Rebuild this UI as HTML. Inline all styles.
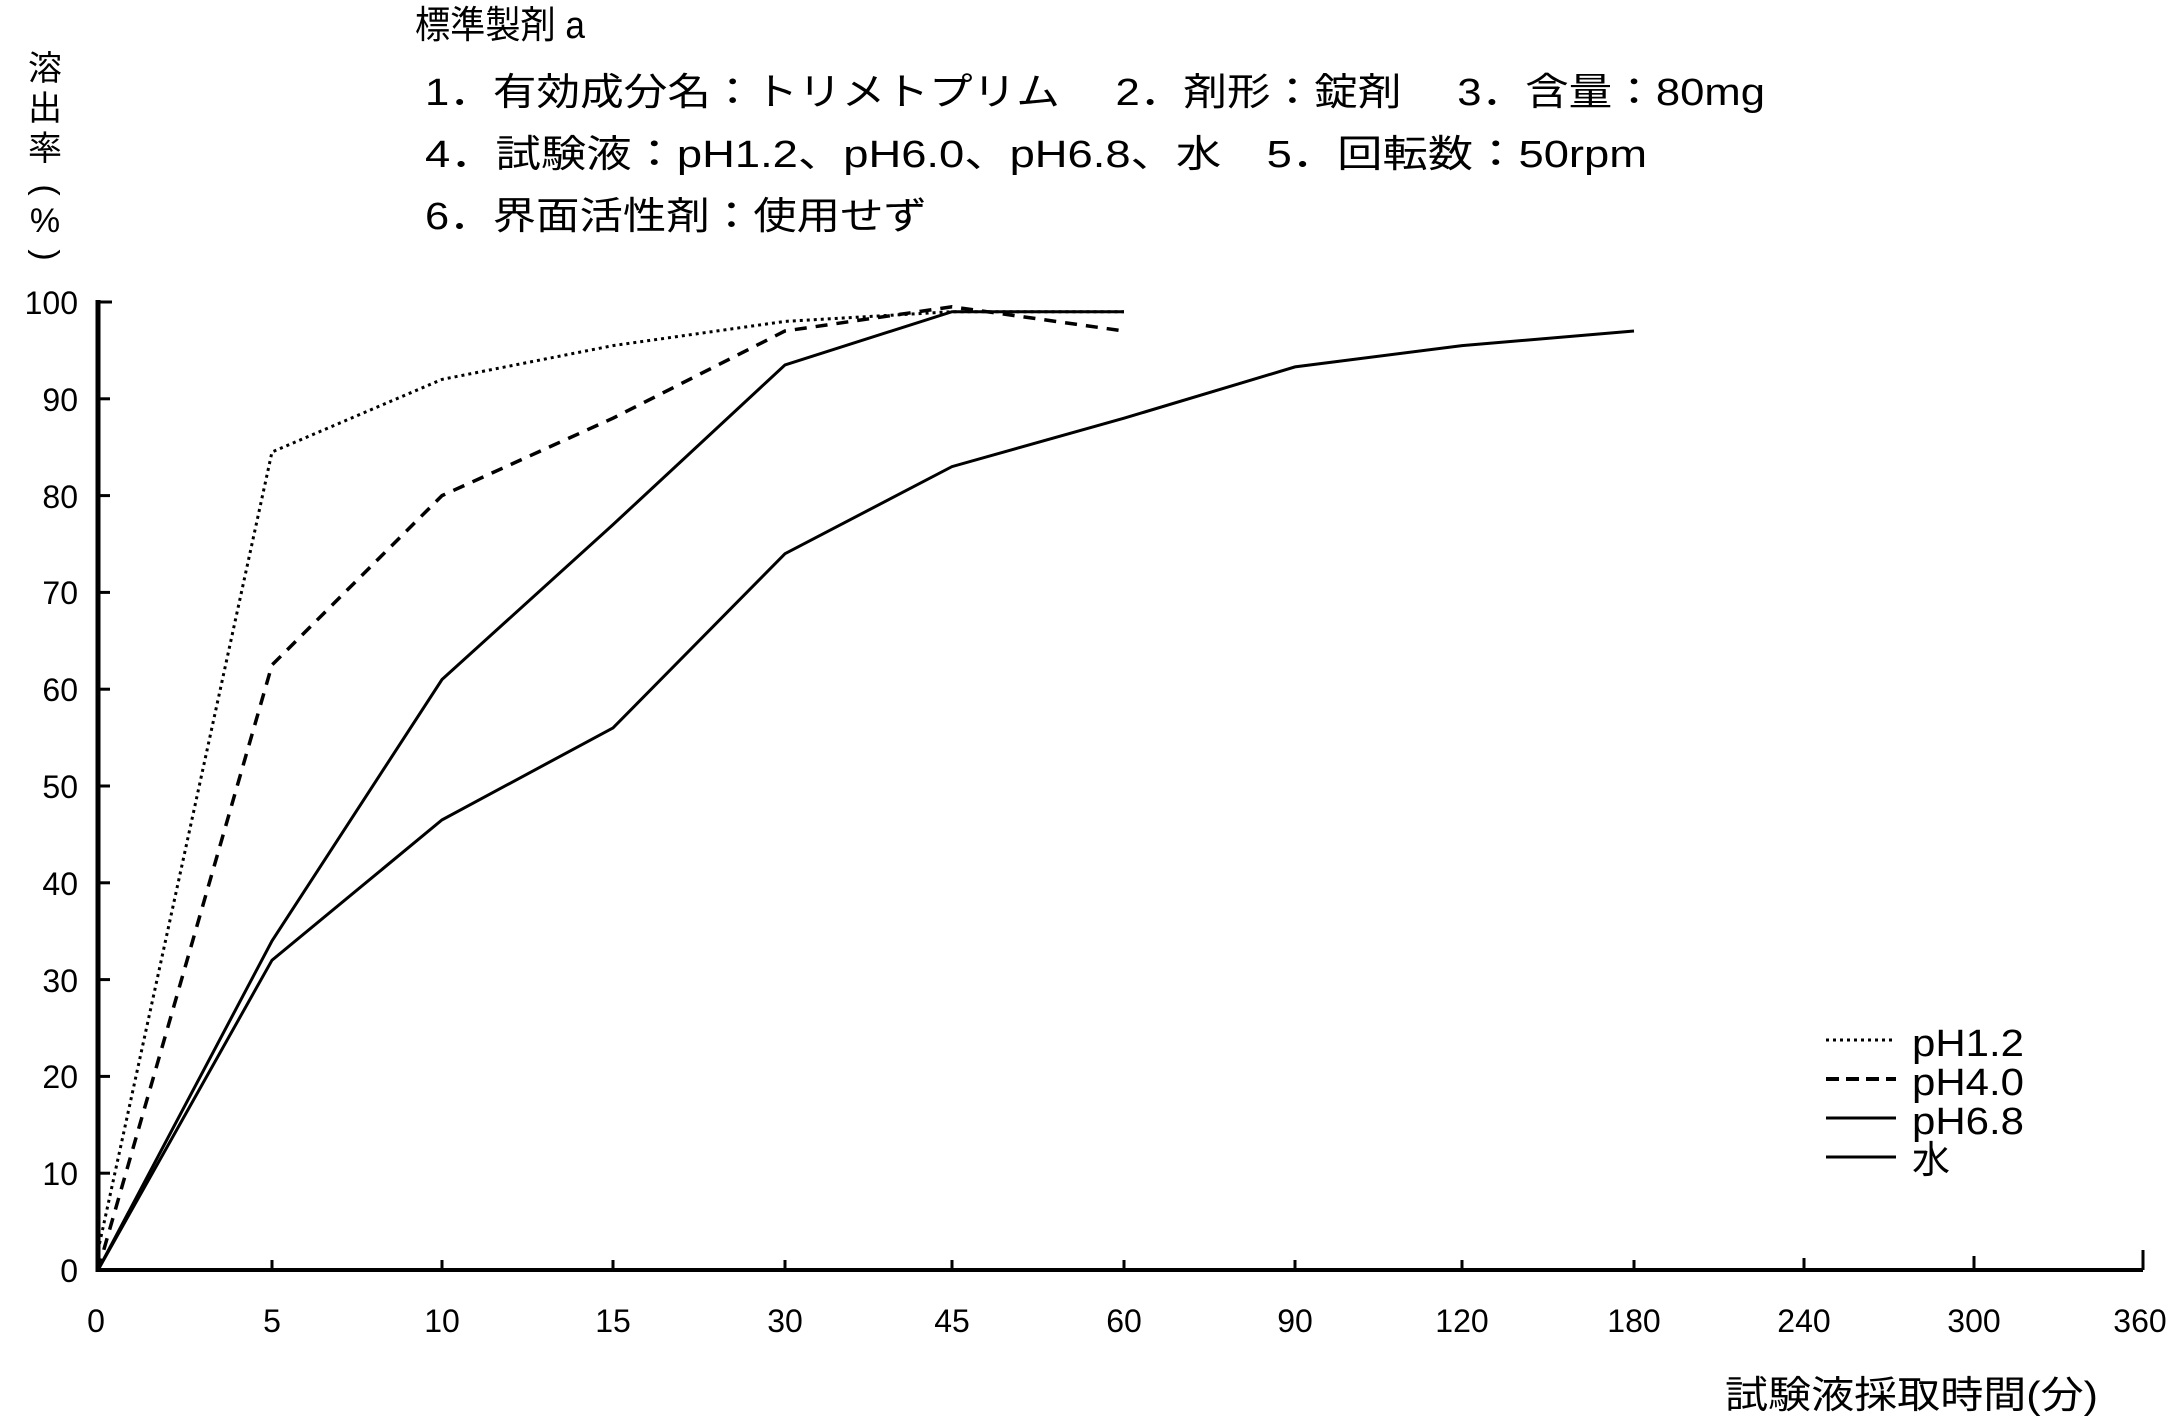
<!DOCTYPE html>
<html><head><meta charset="utf-8"><style>
html,body{margin:0;padding:0;background:#fff;}
svg{display:block;}
text{font-family:"Liberation Sans","Noto Sans CJK JP",sans-serif;fill:#000;}
</style></head><body>
<svg width="2175" height="1417" viewBox="0 0 2175 1417" xmlns="http://www.w3.org/2000/svg">
<!-- header -->
<g font-size="38">
<text x="415" y="38" textLength="170" lengthAdjust="spacingAndGlyphs">標準製剤 a</text>
<text x="425" y="105" textLength="1340" lengthAdjust="spacingAndGlyphs">1．有効成分名：トリメトプリム　 2．剤形：錠剤　 3．含量：80mg</text>
<text x="425" y="167" textLength="1222" lengthAdjust="spacingAndGlyphs">4．試験液：pH1.2、pH6.0、pH6.8、水　5．回転数：50rpm</text>
<text x="425" y="229" textLength="502" lengthAdjust="spacingAndGlyphs">6．界面活性剤：使用せず</text>
</g>
<!-- y label vertical -->
<g font-size="34" text-anchor="middle">
<text x="45" y="80">溶</text>
<text x="45" y="120">出</text>
<text x="45" y="160">率</text>
<text x="45" y="200" transform="rotate(90 45 190)">(</text>
<text x="45" y="232">%</text>
<text x="45" y="265" transform="rotate(90 45 255)">)</text>
</g>
<!-- axes -->
<g stroke="#000" fill="none">
<line x1="98" y1="300" x2="98" y2="1272" stroke-width="5"/>
<line x1="96" y1="1270" x2="2143" y2="1270" stroke-width="4"/>
<line x1="2143" y1="1270" x2="2143" y2="1250" stroke-width="3"/>
<g stroke-width="3">
<line x1="98" y1="302" x2="112" y2="302"/>
<line x1="98" y1="398.8" x2="110" y2="398.8"/>
<line x1="98" y1="495.6" x2="110" y2="495.6"/>
<line x1="98" y1="592.4" x2="110" y2="592.4"/>
<line x1="98" y1="689.2" x2="110" y2="689.2"/>
<line x1="98" y1="786" x2="110" y2="786"/>
<line x1="98" y1="882.8" x2="110" y2="882.8"/>
<line x1="98" y1="979.6" x2="110" y2="979.6"/>
<line x1="98" y1="1076.4" x2="110" y2="1076.4"/>
<line x1="98" y1="1173.2" x2="110" y2="1173.2"/>
<line x1="272" y1="1270" x2="272" y2="1260"/>
<line x1="442" y1="1270" x2="442" y2="1260"/>
<line x1="613" y1="1270" x2="613" y2="1260"/>
<line x1="785" y1="1270" x2="785" y2="1260"/>
<line x1="952" y1="1270" x2="952" y2="1260"/>
<line x1="1124" y1="1270" x2="1124" y2="1260"/>
<line x1="1295" y1="1270" x2="1295" y2="1260"/>
<line x1="1462" y1="1270" x2="1462" y2="1260"/>
<line x1="1634" y1="1270" x2="1634" y2="1260"/>
<line x1="1804" y1="1270" x2="1804" y2="1258"/>
<line x1="1974" y1="1270" x2="1974" y2="1256"/>
</g>
</g>
<!-- y tick labels -->
<g font-size="32" text-anchor="end">
<text x="78" y="314">100</text>
<text x="78" y="411">90</text>
<text x="78" y="508">80</text>
<text x="78" y="604">70</text>
<text x="78" y="701">60</text>
<text x="78" y="798">50</text>
<text x="78" y="895">40</text>
<text x="78" y="992">30</text>
<text x="78" y="1088">20</text>
<text x="78" y="1185">10</text>
<text x="78" y="1282">0</text>
</g>
<!-- x tick labels -->
<g font-size="32" text-anchor="middle">
<text x="96" y="1332">0</text>
<text x="272" y="1332">5</text>
<text x="442" y="1332">10</text>
<text x="613" y="1332">15</text>
<text x="785" y="1332">30</text>
<text x="952" y="1332">45</text>
<text x="1124" y="1332">60</text>
<text x="1295" y="1332">90</text>
<text x="1462" y="1332">120</text>
<text x="1634" y="1332">180</text>
<text x="1804" y="1332">240</text>
<text x="1974" y="1332">300</text>
<text x="2140" y="1332">360</text>
</g>
<text x="1725" y="1408" font-size="38" textLength="373" lengthAdjust="spacingAndGlyphs">試験液採取時間(分)</text>
<!-- series -->
<g fill="none" stroke="#000">
<polyline stroke-width="3" stroke-dasharray="3,4" points="98,1250.6 272,452 442,379.4 613,345.6 785,321.4 952,311.7 1124,311.7"/>
<polyline stroke-width="3.5" stroke-dasharray="12,9" points="98,1270 272,665 442,495.6 613,418.2 785,331 952,306.8 1124,331"/>
<polyline stroke-width="3" points="98,1270 272,940.9 442,679.5 613,524.6 785,364.9 952,311.7 1124,311.7"/>
<polyline stroke-width="3" points="98,1270 272,960.2 442,819.9 613,727.9 785,553.7 952,466.6 1124,418.2 1295,366.9 1462,345.6 1634,331"/>
</g>
<!-- legend -->
<g stroke="#000">
<line x1="1826" y1="1040" x2="1896" y2="1040" stroke-width="3" stroke-dasharray="3,4"/>
<line x1="1826" y1="1079" x2="1896" y2="1079" stroke-width="4" stroke-dasharray="13,7"/>
<line x1="1826" y1="1118" x2="1896" y2="1118" stroke-width="3"/>
<line x1="1826" y1="1157" x2="1896" y2="1157" stroke-width="3"/>
</g>
<g font-size="38">
<text x="1912" y="1056" textLength="112" lengthAdjust="spacingAndGlyphs">pH1.2</text>
<text x="1912" y="1095" textLength="112" lengthAdjust="spacingAndGlyphs">pH4.0</text>
<text x="1912" y="1134" textLength="112" lengthAdjust="spacingAndGlyphs">pH6.8</text>
<text x="1912" y="1173">水</text>
</g>
</svg>
</body></html>
